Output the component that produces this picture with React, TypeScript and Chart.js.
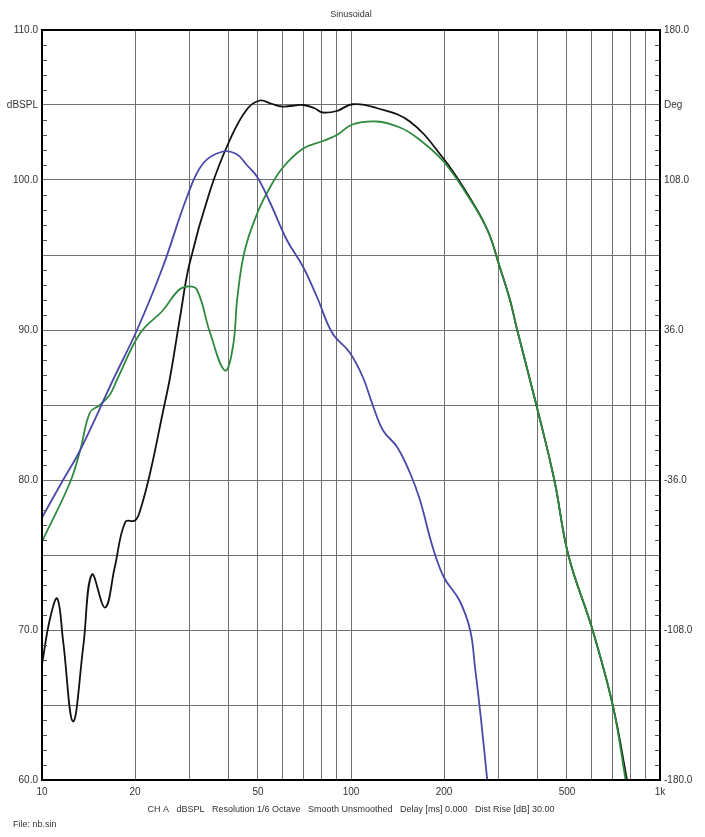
import React, { useEffect, useRef } from "react";
import { Chart, registerables } from "chart.js";

Chart.register(...registerables);

const blackFreq = [10, 10.6, 11.2, 11.7, 12.6, 13.6, 14.5, 16, 17.2, 18.6, 20, 20.8, 22.4, 24.6, 26, 28, 30, 35, 40.6, 46, 50.7, 55, 60, 70, 76, 81, 90, 101, 121, 155, 198, 236, 276, 303, 327, 345, 398, 455, 505, 605, 703, 782, 800];
const blackDb = [67.7, 70.7, 72.1, 69.3, 63.9, 68.9, 73.7, 71.5, 74.2, 77.2, 77.3, 78.0, 80.5, 84.5, 86.9, 90.9, 94.4, 99.3, 102.7, 104.7, 105.3, 105.1, 104.9, 105.0, 104.8, 104.5, 104.6, 105.05, 104.8, 103.9, 101.5, 99.2, 96.7, 94.2, 92.0, 90.0, 85.0, 80.0, 75.0, 70.0, 65.0, 60.0, 58.8];

const greenFreq = [10, 12.3, 13.3, 14.3, 15.4, 16.6, 17.5, 20.8, 24.6, 27.5, 29.5, 31.7, 35, 39.1, 41.5, 42.9, 45.3, 50, 54, 60, 70, 81, 90, 101, 121, 144, 164, 198, 236, 276, 303, 327, 345, 398, 455, 505, 605, 703, 774, 790];
const greenDb = [75.9, 79.8, 82.0, 84.5, 85.0, 85.7, 86.7, 89.8, 91.3, 92.6, 92.9, 92.7, 89.8, 87.3, 88.9, 92.2, 95.3, 97.9, 99.3, 100.8, 102.1, 102.6, 103.0, 103.7, 103.9, 103.5, 102.8, 101.3, 99.1, 96.7, 94.2, 92.0, 90.0, 85.0, 80.0, 75.0, 70.0, 65.0, 60.0, 58.8];

const blueFreq = [10, 11.7, 13.3, 17, 20.3, 24.6, 29.5, 33.2, 38.5, 42.8, 46, 49.7, 54.7, 62, 70, 77.6, 87, 99, 109, 118, 127, 141, 155, 167, 184, 200, 224, 243, 252, 263, 276, 280];
const blueDb = [77.5, 80.0, 82.0, 86.7, 90.0, 94.2, 98.9, 101.1, 101.9, 101.7, 101.0, 100.2, 98.5, 96.0, 94.2, 92.2, 89.8, 88.5, 86.9, 84.9, 83.3, 82.2, 80.5, 78.7, 75.5, 73.5, 72.0, 70.0, 67.5, 64.2, 60.0, 58.8];

const xGridValues = [10, 20, 30, 40, 50, 60, 70, 80, 90, 100, 200, 300, 400, 500, 600, 700, 800, 900, 1000];
const xTickLabels: Record<number, string> = { 10: "10", 20: "20", 50: "50", 100: "100", 200: "200", 500: "500", 1000: "1k" };
const yGridValues = [60, 65, 70, 75, 80, 85, 90, 95, 100, 105, 110];
const yTickLabels: Record<number, string> = { 60: "60.0", 70: "70.0", 80: "80.0", 90: "90.0", 100: "100.0", 105: "dBSPL", 110: "110.0" };
const y2Values = [-180, -108, -36, 36, 108, 144, 180];
const y2TickLabels: Record<number, string> = { "-180": "-180.0", "-108": "-108.0", "-36": "-36.0", 36: "36.0", 108: "108.0", 144: "Deg", 180: "180.0" };

const titleText = "Sinusoidal";
const footerText = "CH A   dBSPL   Resolution 1/6 Octave   Smooth Unsmoothed   Delay [ms] 0.000   Dist Rise [dB] 30.00";
const fileText = "File: nb.sin";

const FONT = "'Liberation Sans', Arial, sans-serif";

function pts(f: number[], d: number[]) {
  return f.map((x, i) => ({ x, y: d[i] }));
}

const framePlugin = {
  id: "frame",
  afterDraw(chart: any) {
    const { ctx, chartArea } = chart;
    const { left, right, top, bottom } = chartArea;
    const yScale = chart.scales.y;
    ctx.save();
    ctx.strokeStyle = "#555";
    ctx.lineWidth = 1;
    for (let v = 60; v <= 110; v++) {
      if (v % 5 === 0) continue;
      const py = Math.round(yScale.getPixelForValue(v)) + 0.5;
      ctx.beginPath();
      ctx.moveTo(left, py);
      ctx.lineTo(left + 5, py);
      ctx.moveTo(right - 5, py);
      ctx.lineTo(right, py);
      ctx.stroke();
    }
    ctx.strokeStyle = "#000";
    ctx.lineWidth = 2;
    ctx.strokeRect(left, top, right - left, bottom - top);
    ctx.fillStyle = "#333";
    ctx.font = `9px ${FONT}`;
    ctx.textAlign = "center";
    ctx.textBaseline = "middle";
    ctx.fillText(titleText, 351, 15);
    ctx.fillText(footerText, 351, 810);
    ctx.textAlign = "left";
    ctx.fillText(fileText, 13, 825);
    ctx.restore();
  },
};

export default function App() {
  const ref = useRef<HTMLCanvasElement | null>(null);
  useEffect(() => {
    if (!ref.current) return;
    const line = (data: any, color: string) => ({
      data,
      borderColor: color,
      borderWidth: 1.8,
      pointRadius: 0,
      tension: 0.4,
      fill: false,
    });
    const chart = new Chart(ref.current, {
      type: "line",
      data: {
        datasets: [
          { label: "blue", ...line(pts(blueFreq, blueDb), "#4a48a8") },
          { label: "green", ...line(pts(greenFreq, greenDb), "#2f8a3e") },
          { label: "black", ...line(pts(blackFreq, blackDb), "#111111") },
        ],
      },
      options: {
        responsive: false,
        animation: false,
        parsing: false,
        layout: { padding: { top: 30, left: 0, right: 0, bottom: 0 } },
        plugins: { legend: { display: false }, title: { display: false }, tooltip: { enabled: false } },
        scales: {
          x: {
            type: "logarithmic",
            min: 10,
            max: 1000,
            afterBuildTicks: (s: any) => { s.ticks = xGridValues.map((v) => ({ value: v })); },
            afterFit: (s: any) => { s.height = 57; },
            grid: { color: "#707070", lineWidth: 1, drawTicks: false },
            border: { display: false },
            ticks: {
              autoSkip: false,
              maxRotation: 0,
              padding: 6,
              color: "#333",
              font: { family: FONT, size: 10 },
              callback: (v: any) => xTickLabels[Number(v)] ?? "",
            },
          },
          y: {
            type: "linear",
            position: "left",
            min: 60,
            max: 110,
            afterBuildTicks: (s: any) => { s.ticks = yGridValues.map((v) => ({ value: v })); },
            afterFit: (s: any) => { s.width = 42; },
            grid: { color: "#707070", lineWidth: 1, drawTicks: false },
            border: { display: false },
            ticks: {
              padding: 4,
              color: "#333",
              font: { family: FONT, size: 10 },
              callback: (v: any) => yTickLabels[Number(v)] ?? "",
            },
          },
          y2: {
            type: "linear",
            position: "right",
            min: -180,
            max: 180,
            afterBuildTicks: (s: any) => { s.ticks = y2Values.map((v) => ({ value: v })); },
            afterFit: (s: any) => { s.width = 45; },
            grid: { display: false, drawTicks: false },
            border: { display: false },
            ticks: {
              padding: 4,
              color: "#333",
              font: { family: FONT, size: 10 },
              callback: (v: any) => y2TickLabels[Number(v)] ?? "",
            },
          },
        },
      } as any,
      plugins: [framePlugin],
    });
    return () => chart.destroy();
  }, []);
  return (
    <div style={{ position: "absolute", left: 0, top: 0, width: 705, height: 837, background: "#fff" }}>
      <canvas ref={ref} width={705} height={837} style={{ display: "block" }} />
    </div>
  );
}
